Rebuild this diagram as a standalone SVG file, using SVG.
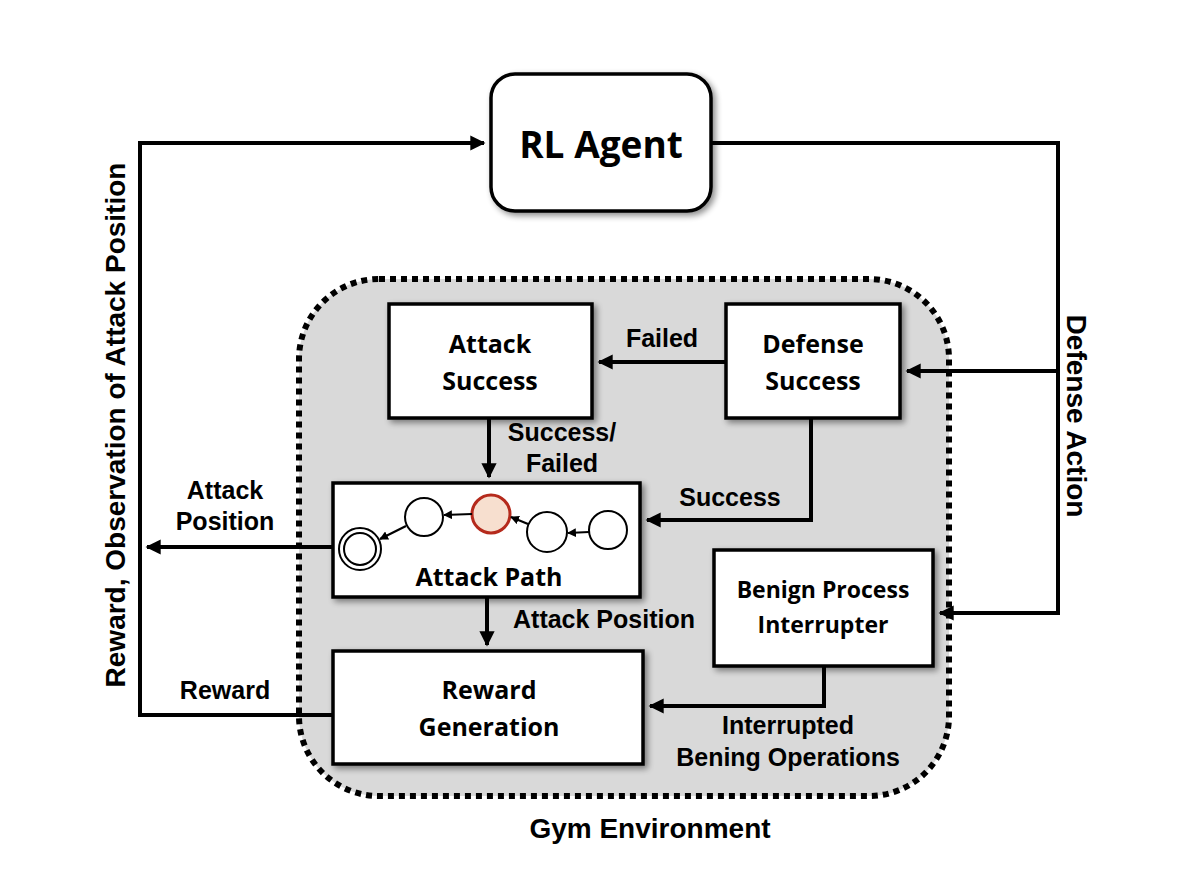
<svg xmlns="http://www.w3.org/2000/svg" width="1200" height="881" viewBox="0 0 1200 881">
<style>
.box{fill:#fff;stroke:#000;stroke-width:3.5}
.bl{font-family:"Open Sans",Lato,sans-serif;font-weight:bold;font-size:25px;text-anchor:middle;fill:#000}
.lb{font-family:"Liberation Sans Narrow","Liberation Sans",Arial,sans-serif;font-weight:bold;font-size:25px;text-anchor:middle;fill:#000}
.ln{fill:none;stroke:#000;stroke-width:4}
.st{fill:#fff;stroke:#000;stroke-width:2}
.sa{fill:none;stroke:#000;stroke-width:2.2}
</style>
<defs>
<marker id="ah" viewBox="0 0 10 10" refX="9" refY="5" markerWidth="3.8" markerHeight="3.8" orient="auto" markerUnits="strokeWidth"><path d="M0,0 L10,5 L0,10 z" fill="#000"/></marker>
<marker id="sh" viewBox="0 0 10 10" refX="9" refY="5" markerWidth="4" markerHeight="4" orient="auto" markerUnits="strokeWidth"><path d="M0,0 L10,5 L0,10 z" fill="#000"/></marker>
<filter id="ds" x="-10%" y="-10%" width="130%" height="130%"><feGaussianBlur in="SourceAlpha" stdDeviation="3"/><feOffset dx="3" dy="3"/><feComponentTransfer><feFuncA type="linear" slope="0.45"/></feComponentTransfer><feMerge><feMergeNode/><feMergeNode in="SourceGraphic"/></feMerge></filter>
</defs>
<rect width="1200" height="881" fill="#fff"/>
<g id="gym">
<rect x="299" y="279" width="650" height="517" rx="80" fill="#d9d9d9" stroke="#000" stroke-width="6" stroke-dasharray="6 5"/>
<text class="lb" x="650" y="838" style="font-size:28px">Gym Environment</text>
</g>
<g id="connectors">
<polyline class="ln" points="711,143 1058,143 1058,613 940,613" marker-end="url(#ah)"/>
<line class="ln" x1="1058" y1="371" x2="907" y2="371" marker-end="url(#ah)"/>
<line class="ln" x1="726" y1="362" x2="599" y2="362" marker-end="url(#ah)"/>
<line class="ln" x1="489" y1="418" x2="489" y2="477" marker-end="url(#ah)"/>
<polyline class="ln" points="811,418 811,520 647,520" marker-end="url(#ah)"/>
<line class="ln" x1="333" y1="547" x2="147" y2="547" marker-end="url(#ah)"/>
<polyline class="ln" points="333,715 140,715 140,143 484,143" marker-end="url(#ah)"/>
<line class="ln" x1="487" y1="597" x2="487" y2="645" marker-end="url(#ah)"/>
<polyline class="ln" points="824,666 824,706 650,706" marker-end="url(#ah)"/>
<text class="lb" x="662" y="347">Failed</text>
<text class="lb" x="562" y="441">Success/</text>
<text class="lb" x="562" y="472">Failed</text>
<text class="lb" x="730" y="506">Success</text>
<text class="lb" x="225" y="499">Attack</text>
<text class="lb" x="225" y="530">Position</text>
<text class="lb" x="604" y="628">Attack Position</text>
<text class="lb" x="225" y="699">Reward</text>
<text class="lb" x="788" y="734">Interrupted</text>
<text class="lb" x="788" y="766">Bening Operations</text>
<text class="lb" style="font-size:28px" transform="translate(1067,416) rotate(90)">Defense Action</text>
<text class="lb" style="font-size:28px" transform="translate(125,425) rotate(-90)">Reward, Observation of Attack Position</text>
</g>
<g id="rl-agent">
<rect class="box" x="491" y="74" width="220" height="137" rx="24" filter="url(#ds)"/>
<text class="bl" x="601" y="158" style="font-size:37px">RL Agent</text>
</g>
<g id="attack-success">
<rect class="box" x="389" y="304" width="203" height="114" filter="url(#ds)"/>
<text class="bl" x="490" y="353">Attack</text>
<text class="bl" x="490" y="390">Success</text>
</g>
<g id="defense-success">
<rect class="box" x="726" y="304" width="174" height="114" filter="url(#ds)"/>
<text class="bl" x="813" y="353">Defense</text>
<text class="bl" x="813" y="390">Success</text>
</g>
<g id="attack-path">
<rect class="box" x="333" y="483" width="307" height="114" filter="url(#ds)"/>
<circle class="st" cx="360" cy="549" r="21"/>
<circle class="st" cx="360" cy="549" r="16"/>
<circle class="st" cx="424" cy="517" r="19"/>
<circle cx="491" cy="514" r="19" fill="#f7dfcf" stroke="#b52a1c" stroke-width="3"/>
<circle class="st" cx="547" cy="532" r="20"/>
<circle class="st" cx="608" cy="530" r="19"/>
<line class="sa" x1="589" y1="532" x2="568" y2="533" marker-end="url(#sh)"/>
<line class="sa" x1="528" y1="524" x2="511" y2="517" marker-end="url(#sh)"/>
<line class="sa" x1="472" y1="514" x2="444" y2="515" marker-end="url(#sh)"/>
<line class="sa" x1="406" y1="526" x2="380" y2="539" marker-end="url(#sh)"/>
<text class="bl" x="489" y="586">Attack Path</text>
</g>
<g id="reward-generation">
<rect class="box" x="333" y="651" width="310" height="113" filter="url(#ds)"/>
<text class="bl" x="489" y="699">Reward</text>
<text class="bl" x="489" y="736">Generation</text>
</g>
<g id="benign-process-interrupter">
<rect class="box" x="714" y="550" width="219" height="116" filter="url(#ds)"/>
<text class="bl" x="823" y="598" style="font-size:23px">Benign Process</text>
<text class="bl" x="823" y="633" style="font-size:23px">Interrupter</text>
</g>
</svg>
